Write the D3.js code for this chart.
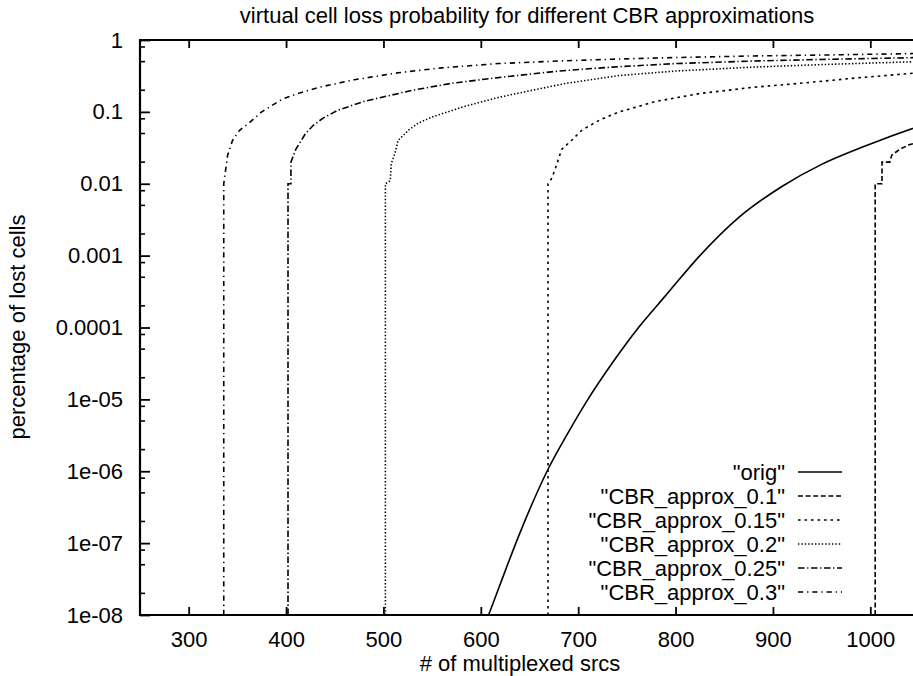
<!DOCTYPE html>
<html>
<head>
<meta charset="utf-8">
<script src="https://cdn.jsdelivr.net/npm/d3@7"></script>
<style>
  body { margin: 0; background: #fff; }
  text { font-family: "Liberation Sans", Arial, Helvetica, sans-serif; fill: #000; }
</style>
</head>
<body>
<svg id="chart" width="913" height="676"></svg>
<script>
// axis ticks
var xTicks = [300, 400, 500, 600, 700, 800, 900, 1000];
var yTicks = [1, 0.1, 0.01, 0.001, 0.0001, 1e-5, 1e-6, 1e-7, 1e-8];
var yTickLabels = ["1", "0.1", "0.01", "0.001", "0.0001", "1e-05", "1e-06", "1e-07", "1e-08"];

// series names (legend order)
var seriesNames = ['"orig"', '"CBR_approx_0.1"', '"CBR_approx_0.15"', '"CBR_approx_0.2"', '"CBR_approx_0.25"', '"CBR_approx_0.3"'];

// [sources, lost cells %]  (0 = no loss, drawn at the bottom edge)
var orig = [[608, 1e-8], [620, 2.7e-8], [636, 1e-7], [650, 2.9e-7], [668, 1e-6], [690, 3.5e-6],
  [710, 1e-5], [735, 3.2e-5], [762, 1e-4], [790, 2.8e-4], [825, 1e-3], [865, 3.4e-3],
  [910, 9.3e-3], [950, 1.86e-2], [990, 3.16e-2], [1015, 4.27e-2], [1050, 6.3e-2]];
var approx01 = [[1005, 0], [1005, 0.01], [1012, 0.01], [1012, 0.02], [1020, 0.02], [1022, 0.025],
  [1030, 0.03], [1040, 0.035], [1050, 0.038]];
var approx015 = [[669, 0], [669, 0.01], [673, 0.012], [677, 0.017], [683, 0.03], [693, 0.04],
  [704, 0.056], [722, 0.077], [742, 0.1], [780, 0.14], [825, 0.18], [880, 0.22], [928, 0.25],
  [990, 0.3], [1050, 0.35]];
var approx02 = [[502, 0], [502, 0.01], [507, 0.011], [508, 0.019], [512, 0.027], [515, 0.04],
  [526, 0.056], [536, 0.07], [550, 0.085], [584, 0.12], [619, 0.16], [653, 0.2], [688, 0.25],
  [742, 0.32], [800, 0.37], [880, 0.42], [960, 0.46], [1050, 0.5]];
var approx025 = [[402, 0], [402, 0.01], [405, 0.01], [405, 0.02], [410, 0.03], [414, 0.037],
  [420, 0.05], [428, 0.065], [438, 0.082], [453, 0.105], [480, 0.14], [530, 0.2], [570, 0.25], [618, 0.3],
  [680, 0.37], [735, 0.42], [800, 0.47], [880, 0.51], [960, 0.54], [1050, 0.57]];
var approx03 = [[336, 0], [336, 0.01], [340, 0.025], [345, 0.04], [352, 0.055], [362, 0.07],
  [375, 0.1], [396, 0.15], [412, 0.18], [434, 0.22], [470, 0.28], [515, 0.35], [560, 0.41],
  [618, 0.47], [680, 0.51], [735, 0.54], [800, 0.57], [880, 0.6], [960, 0.62], [1050, 0.65]];

var seriesData = [orig, approx01, approx015, approx02, approx025, approx03];
var dashes = ["none", "5,2.6", "2.6,3.9", "1.4,2", "6.5,2.6,1.3,2.6", "5.2,3.9,1.3,3.9"];

var svg = d3.select("#chart");
var pLeft = 140, pRight = 919, pTop = 40, pBottom = 615;

var x = d3.scaleLinear().domain([250, 1050]).range([pLeft, pRight]);
var y = d3.scaleLog().domain([1e-8, 1]).range([pBottom, pTop]);

svg.append("rect").attr("width", 913).attr("height", 676).attr("fill", "#fff");

svg.append("clipPath").attr("id", "clip")
  .append("rect").attr("x", pLeft).attr("y", pTop).attr("width", pRight - pLeft).attr("height", pBottom - pTop);

// curves (orig is a smooth analytic curve, the others are step-ish measured data)
var line = d3.line()
  .x(function(d) { return x(d[0]); })
  .y(function(d) { return y(Math.max(d[1], 1e-8)); });
var smoothLine = d3.line()
  .x(function(d) { return x(d[0]); })
  .y(function(d) { return y(Math.max(d[1], 1e-8)); })
  .curve(d3.curveMonotoneX);

var plot = svg.append("g").attr("clip-path", "url(#clip)");
seriesData.forEach(function(s, i) {
  plot.append("path")
    .attr("d", i == 0 ? smoothLine(s) : line(s))
    .attr("fill", "none")
    .attr("stroke", "#000")
    .attr("stroke-width", 1.6)
    .attr("stroke-dasharray", dashes[i]);
});

// axes
var fs = "22px";
var gx = svg.append("g").attr("transform", "translate(0," + pBottom + ")")
  .call(d3.axisBottom(x).tickValues(xTicks).tickSize(-8).tickPadding(16).tickSizeOuter(0)
    .tickFormat(d3.format("d")));
var gxTop = svg.append("g").attr("transform", "translate(0," + pTop + ")")
  .call(d3.axisTop(x).tickValues(xTicks).tickSize(-8).tickFormat("").tickSizeOuter(0));
var gy = svg.append("g").attr("transform", "translate(" + pLeft + ",0)")
  .call(d3.axisLeft(y).tickValues(yTicks).tickSize(-10).tickPadding(17).tickSizeOuter(0)
    .tickFormat(function(d, i) { return yTickLabels[i]; }));

[gx, gxTop, gy].forEach(function(g) {
  g.select(".domain").remove();
  g.selectAll(".tick line").attr("stroke", "#000").attr("stroke-width", 1.8);
  g.selectAll(".tick text").attr("font-size", fs).attr("font-family", null).attr("fill", "#000");
});

// minor log ticks on the left axis
var minor = [];
for (var e = -8; e < 0; e++) {
  [2, 5, 8].forEach(function(m) { minor.push(m * Math.pow(10, e)); });
}
svg.append("g").selectAll("line").data(minor).enter().append("line")
  .attr("x1", pLeft).attr("x2", pLeft + 5)
  .attr("y1", function(d) { return y(d); }).attr("y2", function(d) { return y(d); })
  .attr("stroke", "#000").attr("stroke-width", 1.6);

// frame
svg.append("path")
  .attr("d", "M" + pRight + "," + pTop + "H" + pLeft + "V" + pBottom + "H" + pRight)
  .attr("fill", "none").attr("stroke", "#000").attr("stroke-width", 2.2);

// legend
var legend = svg.append("g");
seriesNames.forEach(function(name, i) {
  var ly = 472 + i * 24;
  legend.append("text").attr("x", 785).attr("y", ly).attr("dy", "0.35em")
    .attr("text-anchor", "end").attr("font-size", fs).text(name);
  legend.append("line").attr("x1", 798).attr("x2", 842).attr("y1", ly).attr("y2", ly)
    .attr("stroke", "#000").attr("stroke-width", 1.6).attr("stroke-dasharray", dashes[i]);
});

// titles
svg.append("text").attr("x", 527).attr("y", 23).attr("text-anchor", "middle").attr("font-size", fs)
  .text("virtual cell loss probability for different CBR approximations");
svg.append("text").attr("x", 520).attr("y", 671).attr("text-anchor", "middle").attr("font-size", fs)
  .text("# of multiplexed srcs");
svg.append("text").attr("transform", "translate(25,327) rotate(-90)").attr("text-anchor", "middle")
  .attr("font-size", fs).text("percentage of lost cells");
</script>
</body>
</html>
